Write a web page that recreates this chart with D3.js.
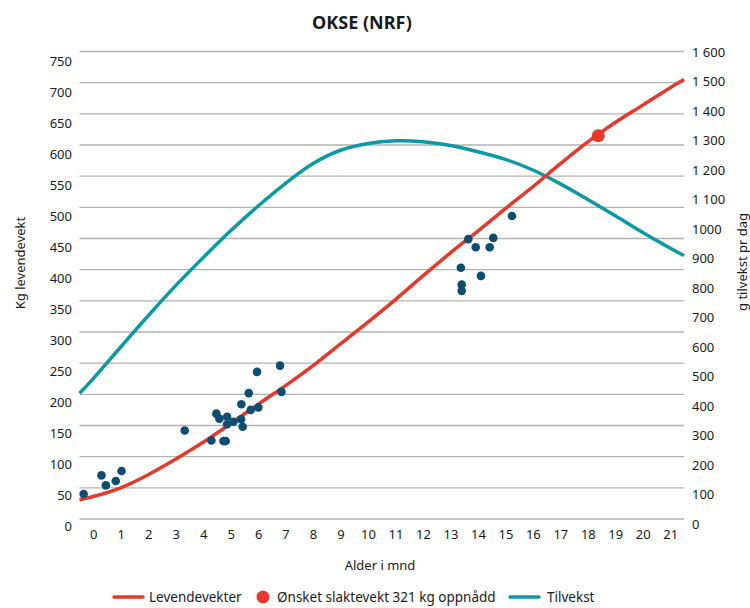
<!DOCTYPE html>
<html>
<head>
<meta charset="utf-8">
<script src="https://cdn.jsdelivr.net/npm/d3@7"></script>
<style>
  body { margin: 0; background: #fff; }
  svg { font-family: "Noto Sans", sans-serif; }
</style>
</head>
<body>
<div id="chart"></div>
<script>
// data
var months = [-0.5, 0, 1, 2, 3, 4, 5, 6, 7, 8, 9, 10, 11, 12, 13, 14, 15, 16, 17, 18, 19, 20, 21, 21.5]
var levendevekt = [31, 36, 50, 71, 96, 123, 153, 184, 214, 246, 281, 316, 352, 390, 427, 462, 498, 533, 570, 605, 636, 664, 692, 705]
var tilvekst = [443, 493, 600, 706, 808, 903, 994, 1078, 1155, 1222, 1267, 1290, 1299, 1296, 1283, 1262, 1236, 1200, 1153, 1100, 1045, 988, 935, 910]

var dotAge = [-0.35, 0.30, 0.46, 0.82, 1.03, 3.33, 4.30, 4.48, 4.59, 4.74, 4.82, 4.87, 4.87, 5.10, 5.38, 5.39, 5.44, 5.66, 5.73, 5.96, 6.01, 6.80, 6.85,
              13.38, 13.41, 13.41, 13.65, 13.92, 14.11, 14.43, 14.56, 15.24]
var dotKg = [40, 70, 54, 61, 77, 142, 126, 169, 161, 125, 125, 164, 152, 156, 160, 184, 148, 202, 175, 236, 179, 246, 204,
             403, 376, 366, 449, 436, 390, 436, 451, 486]

var targetAge = [18.38]
var targetKg = [615]

var xTicks = d3.range(0, 22)
var leftTicks = d3.range(0, 751, 50)
var rightTicks = [0, 100, 200, 300, 400, 500, 600, 700, 800, 900, 1000, 1100, 1200, 1300, 1400, 1500, 1600]
var rightLabels = ["0", "100", "200", "300", "400", "500", "600", "700", "800", "900", "1000", "1 100", "1 200", "1 300", "1 400", "1 500", "1 600"]

var legendNames = ["Levendevekter", "Ønsket slaktevekt 321 kg oppnådd", "Tilvekst"]

var red = "#e4392c", teal = "#0b9aa5", navy = "#0d4d6f"

var svg = d3.select("#chart")
    .append("svg")
    .attr("width", 750)
    .attr("height", 608)

// scales
var x = d3.scaleLinear().domain([-0.5, 21.5]).range([79.5, 684])
var yL = d3.scaleLinear().domain([0, 750]).range([519, 51.5])
var yLab = d3.scaleLinear().domain([0, 750]).range([526, 61])
var yR = d3.scaleLinear().domain([0, 1600]).range([524, 52])

// title
svg.append("text")
    .attr("x", 362)
    .attr("y", 29)
    .attr("text-anchor", "middle")
    .style("font-weight", "bold")
    .style("font-size", "18px")
    .attr("fill", "#1a1a1a")
    .text("OKSE (NRF)")

// gridlines
svg.append("g")
    .selectAll("line")
    .data(leftTicks)
    .enter()
    .append("line")
    .attr("x1", x(-0.5))
    .attr("x2", x(21.5))
    .attr("y1", function (d) { return yL(d) })
    .attr("y2", function (d) { return yL(d) })
    .attr("stroke", "#b3b3b3")
    .attr("stroke-width", 1.3)

// left axis labels
var gl = svg.append("g")
    .attr("transform", "translate(72,0)")
    .call(d3.axisLeft(yLab).tickValues(leftTicks).tickSize(0).tickPadding(0))
gl.select(".domain").remove()

// right axis labels
var gr = svg.append("g")
    .attr("transform", "translate(692,0)")
    .call(d3.axisRight(yR).tickValues(rightTicks).tickSize(0).tickPadding(0)
        .tickFormat(function (d, i) { return rightLabels[i] }))
gr.select(".domain").remove()

// x axis labels
var gx = svg.append("g")
    .attr("transform", "translate(0,530)")
    .call(d3.axisBottom(x).tickValues(xTicks).tickSize(0).tickPadding(0))
gx.select(".domain").remove()

svg.selectAll(".tick text")
    .style("font-size", "13px")
    .style("font-family", "'Noto Sans', sans-serif")
    .attr("fill", "#1a1a1a")

// axis titles
svg.append("text")
    .attr("x", 380)
    .attr("y", 570)
    .attr("text-anchor", "middle")
    .style("font-size", "13px")
    .attr("fill", "#1a1a1a")
    .text("Alder i mnd")

svg.append("text")
    .attr("transform", "translate(25,263) rotate(-90)")
    .attr("text-anchor", "middle")
    .style("font-size", "13px")
    .attr("fill", "#1a1a1a")
    .text("Kg levendevekt")

svg.append("text")
    .attr("transform", "translate(747,262) rotate(-90)")
    .attr("text-anchor", "middle")
    .style("font-size", "13px")
    .attr("fill", "#1a1a1a")
    .text("g tilvekst pr dag")

// tilvekst line (right axis)
svg.append("path")
    .datum(months)
    .attr("d", d3.line()
        .x(function (d) { return x(d) })
        .y(function (d, i) { return yR(tilvekst[i]) })
        .curve(d3.curveCatmullRom))
    .attr("fill", "none")
    .attr("stroke", teal)
    .attr("stroke-width", 3.5)

// levendevekt line (left axis)
svg.append("path")
    .datum(months)
    .attr("d", d3.line()
        .x(function (d) { return x(d) })
        .y(function (d, i) { return yL(levendevekt[i]) })
        .curve(d3.curveCatmullRom))
    .attr("fill", "none")
    .attr("stroke", red)
    .attr("stroke-width", 3.5)

// observed weights
svg.append("g")
    .selectAll("circle")
    .data(dotAge)
    .enter()
    .append("circle")
    .attr("cx", function (d) { return x(d) })
    .attr("cy", function (d, i) { return yL(dotKg[i]) })
    .attr("r", 4.3)
    .attr("fill", navy)

// target point
svg.append("g")
    .selectAll("circle")
    .data(targetAge)
    .enter()
    .append("circle")
    .attr("cx", function (d) { return x(d) })
    .attr("cy", function (d, i) { return yL(targetKg[i]) })
    .attr("r", 6.5)
    .attr("fill", red)

// legend
var ly = 597
var legend = svg.append("g")
legend.append("line")
    .attr("x1", 114).attr("x2", 143).attr("y1", ly).attr("y2", ly)
    .attr("stroke", red).attr("stroke-width", 3.5).attr("stroke-linecap", "round")
legend.append("circle")
    .attr("cx", 263).attr("cy", ly).attr("r", 6.5).attr("fill", red)
legend.append("line")
    .attr("x1", 510).attr("x2", 539).attr("y1", ly).attr("y2", ly)
    .attr("stroke", teal).attr("stroke-width", 3.5).attr("stroke-linecap", "round")

var legendX = [149, 277, 547]
legend.selectAll("text")
    .data(legendNames)
    .enter()
    .append("text")
    .attr("x", function (d, i) { return legendX[i] })
    .attr("y", ly)
    .attr("dy", "0.35em")
    .style("font-size", "13.5px")
    .attr("fill", "#1a1a1a")
    .text(function (d) { return d })
</script>
</body>
</html>
